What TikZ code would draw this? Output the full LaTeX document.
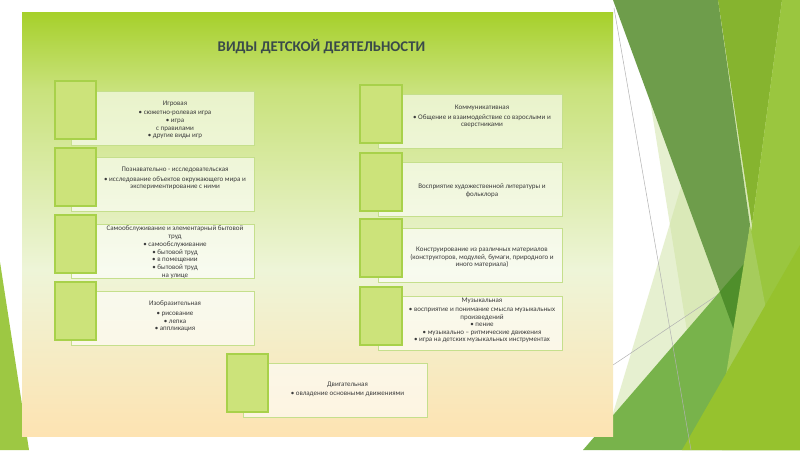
\documentclass[tikz,border=0pt]{standalone}
\usepackage{fontspec}
\setmainfont{Carlito}
\definecolor{sqfill}{HTML}{CCE37A}
\definecolor{sqdraw}{HTML}{A8D14A}
\definecolor{rdraw}{HTML}{C5DF8C}
\definecolor{txt}{HTML}{3C3C3C}
\definecolor{ttl}{HTML}{3A4A4A}
\definecolor{pA}{HTML}{FDE3B2}
\definecolor{pB}{HTML}{EEF5D8}
\definecolor{pC}{HTML}{C9E27C}
\definecolor{pD}{HTML}{A6D02A}
\definecolor{darkg}{HTML}{6E9D4B}
\definecolor{oliveg}{HTML}{86B42F}
\definecolor{limeg}{HTML}{9AC63F}
\definecolor{brightg}{HTML}{96C22E}
\definecolor{medg}{HTML}{78B34B}
\definecolor{deepg}{HTML}{4F8F2B}
\definecolor{paleg}{HTML}{CFE3A2}
\definecolor{stripg}{HTML}{A6CC5C}
\definecolor{leftg}{HTML}{9DC843}
\pgfdeclareverticalshading{panelshade}{100bp}{color(0bp)=(pA); color(25bp)=(pA); color(44.6bp)=(pB); color(65.8bp)=(pC); color(75bp)=(pD); color(100bp)=(pD)}
\tikzset{
  sqbox/.style={draw=sqdraw, fill=sqfill, line width=1.2pt, minimum width=41pt, minimum height=58pt, anchor=north west, inner sep=0pt, outer sep=0pt},
  recbox/.style={draw=rdraw, fill=white, fill opacity=0.6, line width=0.8pt, minimum width=183pt, minimum height=54.5pt, anchor=north west, inner sep=0pt, outer sep=0pt},
  txtbox/.style={text=txt, font=\fontsize{7}{7.6}\selectfont, align=center, inner sep=0pt},
  ttlbox/.style={text=ttl, font=\fontsize{14.8}{17}\selectfont\bfseries, inner sep=0pt},
  thinline/.style={draw=gray!60, line width=0.5pt}
}
\begin{document}
\begin{tikzpicture}[x=1pt,y=-1pt]
\useasboundingbox (0,0) rectangle (800,450);
\fill[white] (0,0) rectangle (800,450);
% decorative facets on the right
\fill[paleg, fill opacity=0.5] (634,0) -- (706,450) -- (800,450) -- (800,0) -- cycle;
\fill[paleg, fill opacity=0.5] (737,0) -- (602,450) -- (800,450) -- (800,0) -- cycle;
\draw[thinline] (613,365) -- (740,280);
\fill[medg] (583,450) -- (800,199) -- (800,450) -- cycle;
\fill[darkg] (613,0) -- (718,0) -- (750,225) -- (735,333) -- cycle;
\begin{scope}
  \clip (583,450) -- (800,199) -- (800,450) -- cycle;
  \fill[deepg] (613,0) -- (718,0) -- (750,225) -- (735,333) -- cycle;
\end{scope}
\fill[oliveg] (718,0) -- (782,0) -- (752,225) -- cycle;
\fill[limeg] (782,0) -- (800,0) -- (800,450) -- (722,450) -- (752,225) -- cycle;
\fill[stripg] (750,225) -- (770,330) -- (722,400) -- cycle;
\fill[brightg] (800,245) -- (800,450) -- (682,450) -- cycle;
\draw[thinline] (614,8) -- (691,450);
% left facet
\fill[leftg] (0,262) -- (29,450) -- (0,450) -- cycle;
% panel
\shade[shading=panelshade] (22,12) rectangle (613,436);
% title
\node[ttlbox] (title) at (321.5,47) {ВИДЫ ДЕТСКОЙ ДЕЯТЕЛЬНОСТИ};
% left column
\node[recbox] (r1) at (71,91) {};
\node[sqbox] (s1) at (55,81) {};
\node[txtbox] (t1) at (175,120) {Игровая\\[1.5pt]• сюжетно-ролевая игра\\• игра\\с правилами\\• другие виды игр};
\node[recbox] (r2) at (71,157) {};
\node[sqbox] (s2) at (55,148) {};
\node[txtbox] (t2) at (175,178.5) {Познавательно - исследовательская\\[2pt]• исследование объектов окружающего мира и\\экспериментирование с ними};
\node[recbox] (r3) at (71,224) {};
\node[sqbox] (s3) at (55,215) {};
\node[txtbox] (t3) at (175,252) {Самообслуживание и элементарный бытовой\\труд\\[1pt]• самообслуживание\\• бытовой труд\\• в помещении\\• бытовой труд\\на улице};
\node[recbox] (r4) at (71,291) {};
\node[sqbox] (s4) at (55,282) {};
\node[txtbox] (t4) at (175,316.5) {Изобразительная\\[2pt]• рисование\\• лепка\\• аппликация};
% right column
\node[recbox, minimum width=184pt] (r5) at (378,94) {};
\node[sqbox, minimum width=42pt] (s5) at (360,85) {};
\node[txtbox] (t5) at (482,116.5) {Коммуникативная\\[2pt]• Общение и взаимодействие со взрослыми и\\сверстниками};
\node[recbox, minimum width=184pt] (r6) at (378,162) {};
\node[sqbox, minimum width=42pt] (s6) at (360,153) {};
\node[txtbox] (t6) at (482,190.5) {Восприятие художественной литературы и\\фольклора};
\node[recbox, minimum width=184pt] (r7) at (378,228) {};
\node[sqbox, minimum width=42pt] (s7) at (360,219) {};
\node[txtbox] (t7) at (482,257.5) {Конструирование из различных материалов\\(конструкторов, модулей, бумаги, природного и\\иного материала)};
\node[recbox, minimum width=184pt] (r8) at (378,296) {};
\node[sqbox, minimum width=42pt] (s8) at (360,287) {};
\node[txtbox] (t8) at (482,320.5) {Музыкальная\\[1.5pt]• восприятие и понимание смысла музыкальных\\произведений\\• пение\\• музыкально – ритмические движения\\• игра на детских музыкальных инструментах};
% bottom
\node[recbox, minimum width=184pt] (r9) at (243,363) {};
\node[sqbox] (s9) at (227,354) {};
\node[txtbox] (t9) at (347.5,389.5) {Двигательная\\[2pt]• овладение основными движениями};
\end{tikzpicture}
\end{document}
